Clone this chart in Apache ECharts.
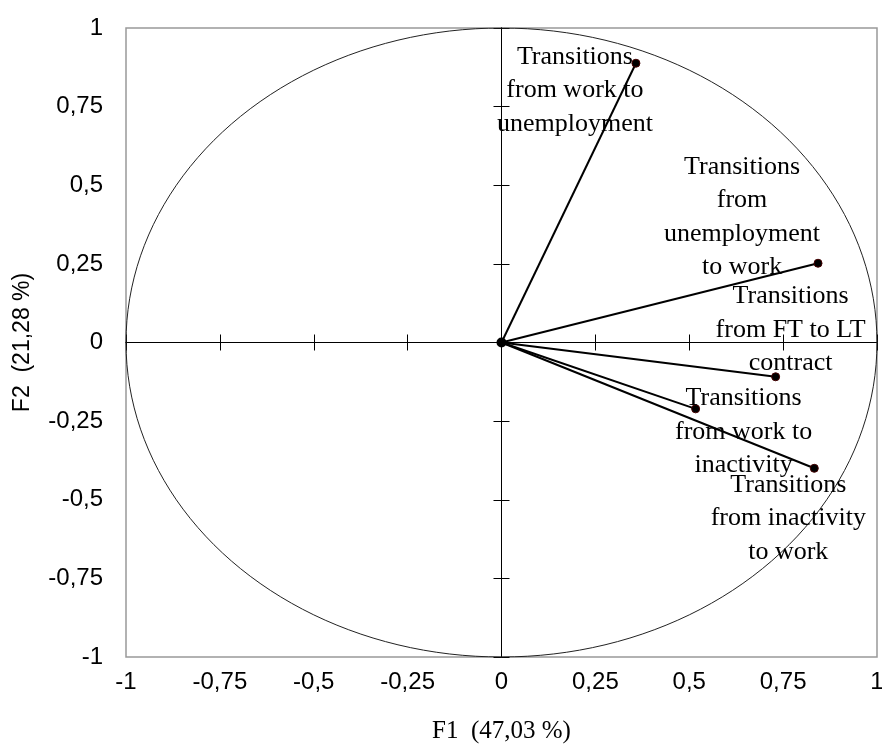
<!DOCTYPE html>
<html>
<head>
<meta charset="utf-8">
<script src="https://cdn.jsdelivr.net/npm/echarts@6/dist/echarts.min.js"></script>
<style>
html,body{margin:0;padding:0;background:#fff;}
#chart{width:882px;height:748px;}
</style>
</head>
<body>
<div id="chart"></div>
<script>
// ---- data ----
const categories = [
  'Transitions\nfrom work to\nunemployment',
  'Transitions\nfrom\nunemployment\nto work',
  'Transitions\nfrom FT to LT\ncontract',
  'Transitions\nfrom work to\ninactivity',
  'Transitions\nfrom inactivity\nto work'
];
const f1 = [0.358, 0.843, 0.730, 0.517, 0.833];
const f2 = [0.888, 0.252, -0.109, -0.211, -0.400];
const axisMin = -1, axisMax = 1, axisStep = 0.25;
const xAxisTitle = 'F1  (47,03 %)';
const yAxisTitle = 'F2  (21,28 %)';

// label placement (pixels, relative to point)
const labelOffsets = [[-61, 27], [-76, -46], [15, -47], [48, 23], [-26, 50]];

// unit correlation circle (reference construction)
const circlePts = [];
for (let d = 0; d <= 360; d += 2) {
  const r = d * Math.PI / 180;
  circlePts.push([Math.cos(r), Math.sin(r)]);
}

const fmt = v => String(+v.toFixed(2)).replace('.', ',');

const pointData = f1.map((x, i) => ({ value: [x, f2[i]], name: categories[i] }));
const vectorData = f1.map((x, i) => ({ coords: [[0, 0], [x, f2[i]]] }));

const baseAxis = {
  type: 'value', min: axisMin, max: axisMax, interval: axisStep,
  splitLine: { show: false }
};
const centerAxis = (inside) => Object.assign({}, baseAxis, {
  axisLine: { show: true, onZero: true, onZeroAxisIndex: 0, lineStyle: { color: '#000', width: 1 } },
  axisTick: { show: true, inside: inside, length: 8, lineStyle: { color: '#000', width: 1 } },
  axisLabel: { show: false }
});

const chart = echarts.init(document.getElementById('chart'), null, { renderer: 'canvas' });
chart.setOption({
  animation: false,
  backgroundColor: '#fff',
  grid: {
    left: 126, right: 5, top: 28, bottom: 91,
    outerBoundsMode: 'none', containLabel: false,
    show: true, borderColor: '#999', borderWidth: 1.5, backgroundColor: 'transparent'
  },
  xAxis: [
    Object.assign({}, baseAxis, {
      position: 'bottom',
      axisLine: { show: false, onZero: false },
      axisTick: { show: false },
      axisLabel: { show: true, fontFamily: 'Liberation Sans', fontSize: 24, color: '#000', margin: 13, formatter: fmt },
      name: xAxisTitle, nameLocation: 'middle', nameGap: 62,
      nameTextStyle: { fontFamily: 'Liberation Serif', fontSize: 25, color: '#000' }
    }),
    centerAxis(false),
    centerAxis(true)
  ],
  yAxis: [
    Object.assign({}, baseAxis, {
      position: 'left',
      axisLine: { show: false, onZero: false },
      axisTick: { show: false },
      axisLabel: { show: true, fontFamily: 'Liberation Sans', fontSize: 24, color: '#000', margin: 23, formatter: fmt },
      name: yAxisTitle, nameLocation: 'middle', nameGap: 92, nameRotate: 90,
      nameTextStyle: { fontFamily: 'Liberation Sans', fontSize: 23, color: '#000' }
    }),
    centerAxis(false),
    centerAxis(true)
  ],
  series: [
    {
      type: 'line', name: 'circle', data: circlePts, showSymbol: false, silent: true,
      xAxisIndex: 0, yAxisIndex: 0,
      lineStyle: { color: '#222', width: 1 }, z: 1
    },
    {
      type: 'lines', coordinateSystem: 'cartesian2d', xAxisIndex: 0, yAxisIndex: 0,
      data: vectorData, silent: true,
      lineStyle: { color: '#000', width: 2, opacity: 1 }, z: 3
    },
    {
      type: 'scatter', xAxisIndex: 0, yAxisIndex: 0,
      data: [[0, 0]], symbolSize: 10, itemStyle: { color: '#000', opacity: 1 }, z: 4
    },
    {
      type: 'scatter', xAxisIndex: 0, yAxisIndex: 0,
      data: pointData, symbolSize: 8,
      itemStyle: { color: '#000', borderColor: '#400', borderWidth: 1, opacity: 1 },
      label: {
        show: true, position: 'inside', formatter: p => p.name,
        fontFamily: 'Liberation Serif', fontSize: 26, lineHeight: 33.5,
        color: '#000', opacity: 1, textBorderWidth: 0, align: 'center', verticalAlign: 'middle'
      },
      labelLayout: p => ({
        dx: labelOffsets[p.dataIndex][0],
        dy: labelOffsets[p.dataIndex][1],
        hideOverlap: false
      }),
      z: 5
    }
  ]
});
</script>
</body>
</html>
